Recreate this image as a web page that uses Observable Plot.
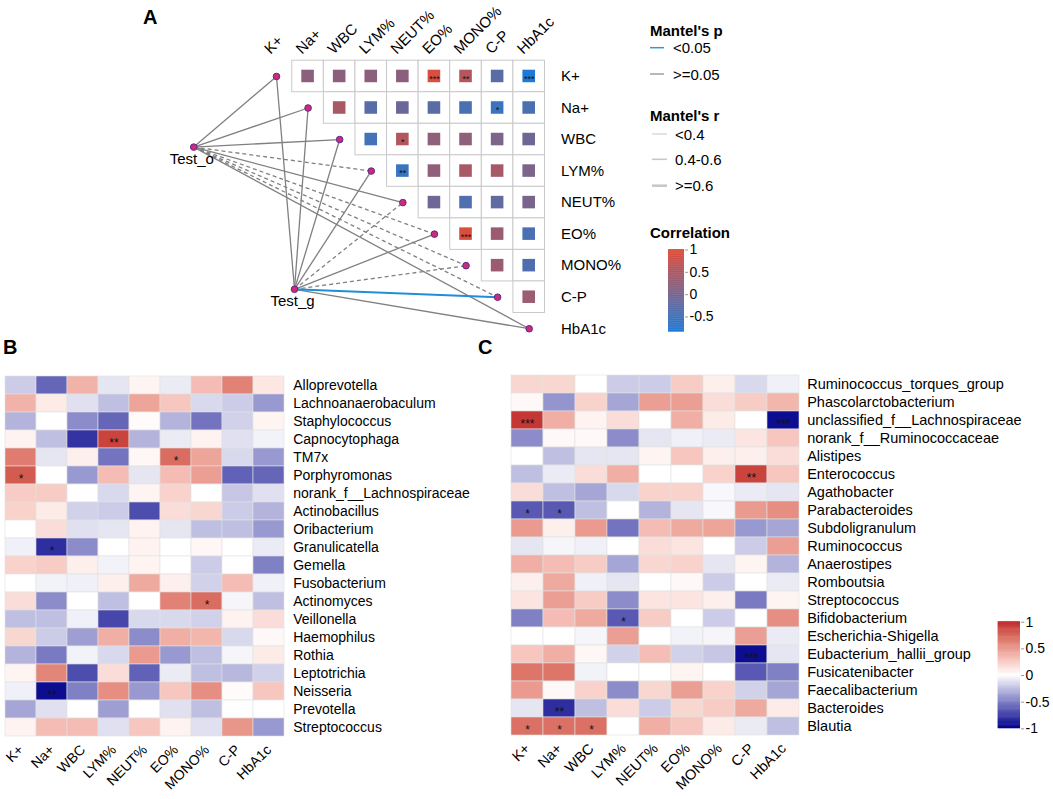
<!DOCTYPE html>
<html><head><meta charset="utf-8">
<script src="https://cdn.jsdelivr.net/npm/d3@7"></script>
<script src="https://cdn.jsdelivr.net/npm/@observablehq/plot@0.6"></script>
<style>
body{margin:0;background:#fff;font-family:"Liberation Sans",Arial,sans-serif;}
#root{position:relative;width:1053px;height:799px;overflow:hidden;background:#fff;}
.plabel{position:absolute;font-weight:bold;font-size:20px;line-height:1;}
</style></head>
<body><div id="root"></div>
<script>
// ---------------- DATA ----------------
const vars = ["K+","Na+","WBC","LYM%","NEUT%","EO%","MONO%","C-P","HbA1c"];

// Panel A: upper triangle correlations (row i, columns i+1 .. 9)
const corrA = [
  [0.2, 0.2, 0.2, 0.2, 0.92, 0.58, -0.28, -0.84],
  [0.47, -0.3, -0.12, -0.28, -0.43, -0.58, -0.43],
  [-0.5, 0.58, 0.24, 0.24, 0.05, -0.09],
  [-0.6, 0.24, 0.47, 0.45, 0.06],
  [-0.1, -0.38, -0.22, 0.02],
  [0.95, 0.35, -0.43],
  [0.35, -0.37],
  [0.33]
];
const starsA = [
  ["", "", "", "", "***", "**", "", "***"],
  ["", "", "", "", "", "*", ""],
  ["", "*", "", "", "", ""],
  ["**", "", "", "", ""],
  ["", "", "", ""],
  ["***", "", ""],
  ["", ""],
  [""]
];
// environment nodes (in grid units of the correlation matrix)
const envNames = ["Test_o", "Test_g"];
const envX = [-1.62, 1.57];
const envY = [3.24, 7.75];
// Mantel links: per env, per variable
const mantelDashed = [
  [false,false,false,true,false,true,true,true,false],
  [false,false,false,false,true,false,true,false,false]
];
const mantelSig = [
  [false,false,false,false,false,false,false,false,false],
  [false,false,false,false,false,false,false,true,false]
];
const mantelR = [
  ["<0.4","<0.4","<0.4","<0.4","<0.4","<0.4","<0.4","<0.4","<0.4"],
  ["<0.4","<0.4","<0.4","<0.4","<0.4","<0.4","<0.4","0.4-0.6","<0.4"]
];
const rCats = ["<0.4","0.4-0.6",">=0.6"];
const rWidths = [1.3, 2.0, 2.8];
const corrTicksA = [1, 0.5, 0, -0.5];

// Panel B
const taxaB = ["Alloprevotella","Lachnoanaerobaculum","Staphylococcus","Capnocytophaga","TM7x","Porphyromonas","norank_f__Lachnospiraceae","Actinobacillus","Oribacterium","Granulicatella","Gemella","Fusobacterium","Actinomyces","Veillonella","Haemophilus","Rothia","Leptotrichia","Neisseria","Prevotella","Streptococcus"];
const corrB = [
  [-0.2,-0.6,0.38,-0.1,0.05,-0.08,0.33,0.62,0.12],
  [0.38,0.1,-0.12,-0.25,0.45,0.28,-0.15,-0.2,-0.4],
  [-0.3,0,-0.45,-0.6,0.02,-0.3,-0.55,-0.18,0.05],
  [0.06,-0.25,-0.8,0.9,-0.3,-0.08,0.06,-0.12,-0.05],
  [0.65,-0.1,0.08,-0.55,0.04,0.72,0.45,-0.15,-0.4],
  [0.8,0,-0.4,0.33,-0.1,0.33,0.48,-0.62,-0.6],
  [0.25,0.25,0,-0.15,0.05,0.22,0,-0.22,-0.12],
  [0.22,0.1,-0.18,-0.2,-0.7,0.17,0.2,-0.2,-0.3],
  [0,0.17,-0.12,-0.1,0.06,-0.1,-0.25,-0.25,-0.4],
  [-0.06,-0.82,-0.45,0,0.06,0,0.04,0,-0.08],
  [0.22,0.25,0.08,-0.05,0.05,0,-0.2,0,-0.5],
  [0,-0.05,-0.06,0.08,0.42,0.08,-0.18,0.33,-0.06],
  [0.17,-0.45,0,-0.25,0,0.62,0.72,-0.04,-0.25],
  [-0.25,-0.25,-0.06,-0.72,-0.15,-0.15,-0.18,0.06,0.17],
  [0.2,-0.2,-0.38,0.4,-0.45,0.4,0.36,-0.15,0.03],
  [-0.3,-0.52,-0.05,-0.15,0.5,-0.4,-0.25,-0.04,0.1],
  [0.05,0.6,-0.7,0.17,-0.62,-0.08,-0.25,-0.28,-0.18],
  [-0.06,-0.95,-0.5,0.56,-0.4,0.28,0.56,0.02,0.28],
  [-0.35,-0.12,0,-0.38,0,-0.12,-0.25,0,0],
  [0.06,0.33,0.33,-0.12,0.28,0.06,-0.12,0.52,-0.4]
];
const starsB = [
  ["Capnocytophaga","LYM%","**"],["TM7x","EO%","*"],["Porphyromonas","K+","*"],
  ["Granulicatella","Na+","*"],["Actinomyces","MONO%","*"],["Neisseria","Na+","**"]
];

// Panel C
const taxaC = ["Ruminococcus_torques_group","Phascolarctobacterium","unclassified_f__Lachnospiraceae","norank_f__Ruminococcaceae","Alistipes","Enterococcus","Agathobacter","Parabacteroides","Subdoligranulum","Ruminococcus","Anaerostipes","Romboutsia","Streptococcus","Bifidobacterium","Escherichia-Shigella","Eubacterium_hallii_group","Fusicatenibacter","Faecalibacterium","Bacteroides","Blautia"];
const corrC = [
  [0.2,0.2,0,-0.2,-0.2,0.25,0.08,-0.15,-0.06],
  [0.03,-0.42,0.22,-0.35,0.48,0.48,0.17,0.25,0.36],
  [0.95,0.4,0.06,0.17,0,0.4,0.1,0,-0.95],
  [-0.45,0.03,0.03,-0.45,-0.1,-0.06,-0.08,0.13,0.28],
  [0,-0.25,-0.1,-0.1,0.05,0.28,0.08,0.08,0.17],
  [-0.25,-0.08,0.17,0.4,0,0,0.22,0.9,0.28],
  [0.17,-0.25,-0.35,-0.15,0.22,0.22,-0.03,-0.08,-0.1],
  [-0.65,-0.65,-0.25,0,-0.3,-0.1,-0.03,0.5,0.56],
  [0.5,0.08,0.5,-0.55,0.33,0.42,0.45,-0.4,-0.35],
  [-0.1,-0.04,-0.06,0,0.17,0.13,0,-0.2,0.48],
  [0.4,0.33,0.25,-0.35,0.2,0.22,-0.1,0.05,-0.3],
  [0.08,0.42,-0.06,-0.1,0,0.03,-0.2,0,-0.08],
  [0.13,0.48,0.25,-0.45,0.13,0.13,0.08,-0.52,0.05],
  [-0.5,0.33,0.42,-0.65,0.25,0,-0.2,0,0.56],
  [0,0,-0.04,0.48,0,-0.05,-0.04,0.48,-0.08],
  [0.28,0.4,0.04,-0.18,0.32,-0.18,-0.22,-0.95,-0.1],
  [0.68,0.68,-0.05,0,0,0.05,0,-0.65,-0.5],
  [0.5,0.03,0.22,-0.45,0.2,0.48,0.22,-0.18,-0.35],
  [-0.1,-0.82,-0.25,0.17,-0.2,0.2,0.25,0.42,0.1],
  [0.7,0.7,0.7,0,0.4,0.28,0.1,-0.08,-0.25]
];
const starsC = [
  ["unclassified_f__Lachnospiraceae","K+","***"],["unclassified_f__Lachnospiraceae","HbA1c","***"],
  ["Enterococcus","C-P","**"],["Parabacteroides","K+","*"],["Parabacteroides","Na+","*"],
  ["Bifidobacterium","LYM%","*"],["Eubacterium_hallii_group","C-P","***"],["Bacteroides","Na+","**"],
  ["Blautia","K+","*"],["Blautia","Na+","*"],["Blautia","WBC","*"]
];
const corrTicksBC = [1, 0.5, 0, -0.5, -1];

// ---------------- RENDER ----------------
const FONT = '"Liberation Sans", Arial, sans-serif';
const root = document.getElementById("root");
function place(node, left, top) {
  node.style.position = "absolute"; node.style.left = left + "px"; node.style.top = top + "px";
  node.style.maxWidth = "none"; node.style.background = "transparent";
  root.appendChild(node);
}
function label(txt, left, top) {
  const d = document.createElement("div"); d.className = "plabel"; d.textContent = txt;
  d.style.left = left + "px"; d.style.top = top + "px"; root.appendChild(d);
}

// Panel A
const colorA = {type: "linear", domain: [-0.84, 1], range: ["#1f7ad6", "#e04c38"], interpolate: "rgb"};
const cellsA = [];
corrA.forEach((row, i) => row.forEach((r, k) => cellsA.push({row: i + 1, col: i + 2 + k, r, star: starsA[i][k]})));
const links = [];
envNames.forEach((e, ei) => vars.forEach((v, j) => links.push({
  x1: envX[ei], y1: envY[ei], x2: j + 1, y2: j + 1,
  dashed: mantelDashed[ei][j], sig: mantelSig[ei][j], w: rWidths[rCats.indexOf(mantelR[ei][j])]
})));
const envNodes = envNames.map((n, i) => ({name: n, x: envX[i], y: envY[i]}));
const linkOpts = {x1: "x1", y1: "y1", x2: "x2", y2: "y2", strokeWidth: "w"};

const plotA = Plot.plot({
  width: 640, height: 345,
  x: {type: "linear", domain: [0.5, 9.5], range: [260.2, 544.5], axis: null},
  y: {type: "linear", domain: [0.5, 9.5], range: [60.2, 344], axis: null},
  color: colorA,
  style: {fontFamily: FONT, fontSize: "15px", background: "transparent", color: "#000"},
  marks: [
    Plot.rect(cellsA, {x1: d => d.col - 0.5, x2: d => d.col + 0.5, y1: d => d.row - 0.5, y2: d => d.row + 0.5, fill: "white", stroke: "#c9c9c9", strokeWidth: 1}),
    Plot.rect(cellsA, {x1: d => d.col - 0.5, x2: d => d.col + 0.5, y1: d => d.row - 0.5, y2: d => d.row + 0.5, fill: "r", inset: 9.5}),
    Plot.text(cellsA.filter(d => d.star), {x: "col", y: "row", text: "star", fontSize: 9, dy: 2.5, fill: "#111"}),
    Plot.link(links.filter(d => !d.dashed && !d.sig), {...linkOpts, stroke: "#808080"}),
    Plot.link(links.filter(d => d.dashed && !d.sig), {...linkOpts, stroke: "#808080", strokeDasharray: "4,3"}),
    Plot.link(links.filter(d => d.sig), {...linkOpts, stroke: "#1e8fd6"}),
    Plot.dot(vars, {x: (d, i) => i + 1, y: (d, i) => i + 1, r: 3.3, fill: "#cf2a76", stroke: "#5b2a8c", strokeWidth: 1}),
    Plot.dot(envNodes, {x: "x", y: "y", r: 3.3, fill: "#cf2a76", stroke: "#5b2a8c", strokeWidth: 1}),
    Plot.text(envNodes, {x: "x", y: "y", text: "name", lineAnchor: "top", dy: 6, dx: -2, fontSize: 15, fill: "#000"}),
    Plot.text(vars, {x: 9.5, y: (d, i) => i + 1, text: d => d, textAnchor: "start", dx: 16, fontSize: 15, fill: "#000"}),
    Plot.text(vars, {x: (d, i) => i + 1, y: 0.5, text: d => d, rotate: -45, textAnchor: "start", lineAnchor: "bottom", dx: -6, dy: -6, fontSize: 15, fill: "#000"})
  ]
});
place(plotA, 0, 0);
label("A", 143, 7);

// Legend for A (Mantel)
const leg = d3.create("svg").attr("width", 160).attr("height", 245)
  .style("font-family", FONT).style("font-size", "15px");
const lg = leg.append("g").attr("transform", "translate(-640,0)");
lg.append("text").attr("x", 650).attr("y", 36).attr("font-weight", "bold").text("Mantel's p");
lg.append("line").attr("x1", 650).attr("x2", 664).attr("y1", 47.7).attr("y2", 47.7).attr("stroke", "#2b9ad6").attr("stroke-width", 1.5);
lg.append("text").attr("x", 673).attr("y", 53).text("<0.05");
lg.append("line").attr("x1", 650).attr("x2", 664).attr("y1", 74).attr("y2", 74).attr("stroke", "#888").attr("stroke-width", 1.2);
lg.append("text").attr("x", 673).attr("y", 79.5).text(">=0.05");
lg.append("text").attr("x", 650).attr("y", 120.5).attr("font-weight", "bold").text("Mantel's r");
const legR = [[134, 1.0], [159.3, 1.6], [185.7, 2.6]];
rCats.forEach((c, i) => {
  lg.append("line").attr("x1", 652).attr("x2", 667).attr("y1", legR[i][0]).attr("y2", legR[i][0]).attr("stroke", "#c8c8c8").attr("stroke-width", legR[i][1]);
  lg.append("text").attr("x", 675).attr("y", legR[i][0] + 5.5).text(c);
});
lg.append("text").attr("x", 650).attr("y", 238).attr("font-weight", "bold").text("Correlation");
place(leg.node(), 640, 0);

// Colorbar helper
function colorbar(colorOpts, lo, hi, ticks, opts) {
  const n = 120, stepsArr = [];
  for (let k = 0; k < n; k++) stepsArr.push({a: lo + (hi - lo) * k / n, b: lo + (hi - lo) * (k + 1) / n});
  return Plot.plot({
    width: opts.ml + opts.w + 40, height: opts.mt + opts.h + opts.mb,
    marginLeft: opts.ml, marginRight: 40, marginTop: opts.mt, marginBottom: opts.mb,
    x: {type: "linear", domain: [0, 1], axis: null},
    y: {domain: [lo, hi], axis: null},
    color: colorOpts,
    style: {fontFamily: FONT, fontSize: "14px", background: "transparent", color: "#000"},
    marks: [
      Plot.rect(stepsArr, {x1: 0, x2: 1, y1: "a", y2: d => d.b + (hi - lo) / n * 0.6, fill: d => (d.a + d.b) / 2}),
      Plot.axisY({anchor: "right", ticks, tickFormat: d => String(d), tickSize: 3, tickPadding: 2, stroke: "#999", fill: "#000", fontSize: 14, label: null})
    ]
  });
}
place(colorbar(colorA, -0.84, 1, corrTicksA, {ml: 8, w: 16, mt: 9.5, h: 82.2, mb: 8}), 660, 240);

// Panels B and C: white -> red in Lab, white -> navy in RGB
const mixInterp = (a, b) => {
  const ca = d3.rgb(a), cb = d3.rgb(b);
  return (Math.min(ca.r, cb.r) > 100) ? d3.interpolateLab(a, b) : d3.interpolateRgb(a, b);
};
const colorBC = {type: "linear", domain: [-1, 0, 1], range: ["#00008b", "#ffffff", "#c0282c"], interpolate: mixInterp};
function heat(taxa, corr, stars, o) {
  const cells = taxa.flatMap((t, i) => vars.map((v, j) => ({t, v, r: corr[i][j]})));
  const st = stars.map(([t, v, s]) => ({t, v, s}));
  return Plot.plot({
    width: o.width, height: o.height,
    marginLeft: o.ml, marginTop: o.mt, marginRight: o.width - o.ml - o.pw, marginBottom: o.height - o.mt - o.ph,
    x: {domain: vars, padding: 0, label: null},
    y: {domain: taxa, padding: 0, label: null},
    color: colorBC,
    style: {fontFamily: FONT, fontSize: "14px", background: "transparent", color: "#000"},
    marks: [
      Plot.cell(cells, {x: "v", y: "t", fill: "r", stroke: "#e2e2e2", strokeWidth: 0.6, inset: 0}),
      Plot.text(st, {x: "v", y: "t", text: "s", fontSize: 12, dy: 3.5, fill: "#111"}),
      Plot.axisX({anchor: "bottom", tickRotate: -45, tickSize: 0, tickPadding: 4, fontSize: o.fs, fill: "#000", label: null}),
      Plot.axisY({anchor: "right", tickSize: 0, tickPadding: o.pad, fontSize: o.fs, fill: "#000", label: null})
    ]
  });
}
place(heat(taxaB, corrB, starsB, {width: 498, height: 459, ml: 2.7, mt: 29.3, pw: 284, ph: 373.7, fs: 14, pad: 6}), 0, 340);
place(heat(taxaC, corrC, starsC, {width: 553, height: 459, ml: 8.3, mt: 28.3, pw: 293.4, ph: 373.4, fs: 14.5, pad: 5}), 500, 340);
label("B", 3, 337);
label("C", 478, 337);

// Colorbar C
place(colorbar(colorBC, -1, 1, corrTicksBC, {ml: 7.7, w: 22.3, mt: 9.7, h: 106.6, mb: 10}), 990, 612);
</script>
</body></html>
